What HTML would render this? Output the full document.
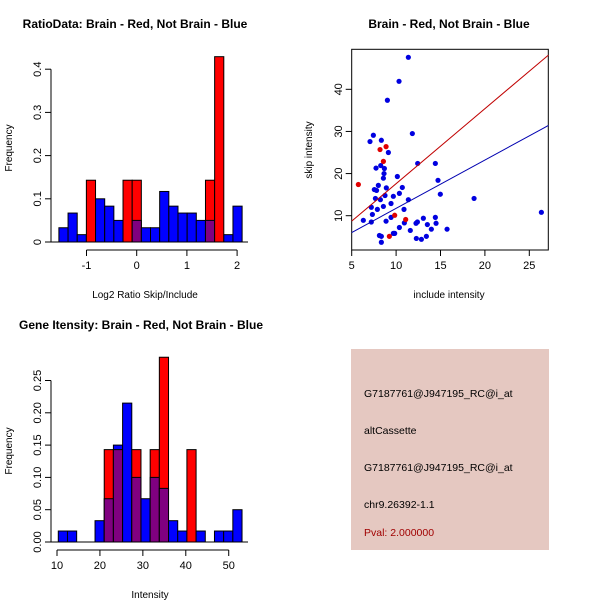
<!DOCTYPE html>
<html><head><meta charset="utf-8"><style>
body{margin:0;background:#fff}
svg{display:block;font-family:"Liberation Sans",sans-serif}
</style></head><body>
<svg id="s" width="600" height="600" xmlns="http://www.w3.org/2000/svg">
<rect width="600" height="600" fill="#fff"/>
<text x="135" y="28" font-size="12" font-weight="bold" text-anchor="middle">RatioData: Brain - Red, Not Brain - Blue</text>
<text x="449" y="28" font-size="12" font-weight="bold" text-anchor="middle">Brain - Red, Not Brain - Blue</text>
<text x="141" y="329" font-size="12" font-weight="bold" text-anchor="middle">Gene Itensity: Brain - Red, Not Brain - Blue</text>
<g id="h1"></g>
<g id="h2"></g>
<g id="sc"></g>
<g>
<rect x="351" y="349" width="198" height="201" fill="#e5c8c1"/>
<g font-size="10.5" fill="#000">
<text x="364" y="397">G7187761@J947195_RC@i_at</text>
<text x="364" y="434">altCassette</text>
<text x="364" y="471">G7187761@J947195_RC@i_at</text>
<text x="364" y="508">chr9.26392-1.1</text>
<text x="364" y="536" fill="#a00000">Pval: 2.000000</text>
</g></g>
</svg>
<script>
const NS="http://www.w3.org/2000/svg";
function mk(p,t,a){const e=document.createElementNS(NS,t);for(const k in a)e.setAttribute(k,a[k]);p.appendChild(e);return e;}
// ratio histogram data
const ratioStart=-1.55, ratioWidth=0.1825;
const ratioBlue=[0.033,0.067,0.017,0,0.1,0.083,0.05,0,0.05,0.033,0.033,0.117,0.083,0.067,0.067,0.05,0.05,0,0.017,0.083];
const ratioRed=[0,0,0,0.143,0,0,0,0.143,0.143,0,0,0,0,0,0,0,0.143,0.429,0,0];
const ratioXTicks=[-1,0,1,2];
const ratioYTicks=[0,0.1,0.2,0.3,0.4];
// gene intensity histogram data
const geneStart=10.3, geneWidth=2.14;
const geneBlue=[0.017,0.017,0,0,0.033,0.067,0.15,0.215,0.1,0.067,0.1,0.083,0.033,0.017,0,0.017,0,0.017,0.017,0.05];
const geneRed=[0,0,0,0,0,0.143,0.143,0,0.143,0,0.143,0.286,0,0,0.143,0,0,0,0,0];
const geneXTicks=[10,20,30,40,50];
const geneYTicks=["0.00","0.05","0.10","0.15","0.20","0.25"];
// scatter data
const blueX=[11.38,10.33,9.02,11.83,7.44,7.06,8.34,9.13,7.74,8.27,12.43,14.42,8.68,8.64,8.57,10.14,14.72,8.0,8.9,10.7,7.55,7.8,10.37,14.98,8.75,9.69,7.67,8.23,11.38,18.78,9.43,8.57,7.21,7.89,10.89,7.33,26.36,6.31,7.21,8.87,9.43,10.93,12.24,12.4,13.07,13.52,14.42,14.5,10.37,11.6,13.97,15.74,9.84,9.69,8.12,8.34,12.28,12.85,13.41,8.34];
const blueY=[47.6,41.9,37.4,29.5,29.1,27.6,27.9,25.0,21.3,21.9,22.4,22.4,21.2,20.0,18.9,19.3,18.4,17.2,16.6,16.7,16.2,16.0,15.3,15.1,14.8,14.6,14.1,13.8,13.8,14.1,12.9,12.2,12.0,11.5,11.5,10.3,10.8,8.9,8.5,8.7,9.6,8.3,8.2,8.5,9.4,7.9,9.6,8.2,7.2,6.5,6.8,6.8,5.8,5.8,5.3,5.1,4.6,4.4,5.1,3.7];
const redX=[5.75,8.19,8.87,8.57,9.84,11.08,9.24];
const redY=[17.4,25.7,26.4,22.9,10.1,9.1,5.1];
const redFit=[-0.2,1.78];
const blueFit=[0.27,1.147];
const scXTicks=[5,10,15,20,25];
const scYTicks=[10,20,30,40];

function hist(g,o){
  const sx=v=>o.x0+(v-o.v0)*o.kx, sy=v=>o.y0-v*o.ky;
  for(let i=0;i<o.blue.length;i++){
    const a=o.start+i*o.w,b=a+o.w,bl=o.blue[i],rd=o.red[i];
    const x=sx(a),w=sx(b)-sx(a);
    const draw=(v,c,nm)=>{if(v<=0)return;const r=mk(g,'rect',{x:x,y:sy(v),width:w,height:sy(0)-sy(v),fill:c,stroke:'#000','stroke-width':1});
      
      };
    if(bl>=rd){draw(bl,'#0000ff','bar-blue');draw(rd,'#800080','bar-overlap');}
    else{draw(rd,'#ff0000','bar-red');draw(bl,'#800080','bar-overlap');}
  }
  const xt=o.xt;
  mk(g,'line',{x1:sx(xt[0]),x2:sx(xt[xt.length-1]),y1:o.xa,y2:o.xa,stroke:'#000'});
  xt.forEach(t=>{mk(g,'line',{x1:sx(t),x2:sx(t),y1:o.xa,y2:o.xa+6,stroke:'#000'});
    const tx=mk(g,'text',{x:sx(t),y:o.xa+19,'font-size':11,'text-anchor':'middle'});tx.textContent=t;
    
    });
  const yt=o.yt;
  mk(g,'line',{x1:o.ya,x2:o.ya,y1:sy(+yt[0]),y2:sy(+yt[yt.length-1]),stroke:'#000'});
  yt.forEach(t=>{const y=sy(+t);mk(g,'line',{x1:o.ya,x2:o.ya-6,y1:y,y2:y,stroke:'#000'});
    const tx=mk(g,'text',{x:0,y:0,'font-size':11,'text-anchor':'middle',transform:`translate(${o.ya-10},${y}) rotate(-90)`});tx.textContent=t;
    
    });
  mk(g,'line',{x1:o.ya,x2:o.xr,y1:sy(0),y2:sy(0),stroke:'#000'});
  const xl=mk(g,'text',{x:o.xlx,y:o.xly,'font-size':10,'text-anchor':'middle'});xl.textContent=o.xlab;
  
  
  const yl=mk(g,'text',{x:0,y:0,'font-size':10,'text-anchor':'middle',transform:`translate(12,${o.yly}) rotate(-90)`});yl.textContent='Frequency';
  
  
}
hist(document.getElementById('h1'),{blue:ratioBlue,red:ratioRed,start:ratioStart,w:ratioWidth,x0:136.7,v0:0,kx:50.2,y0:242,ky:432,xa:250,ya:51,xr:248,xt:ratioXTicks,yt:ratioYTicks,xlab:'Log2 Ratio Skip/Include',xlx:145,xly:298,yly:148});
hist(document.getElementById('h2'),{blue:geneBlue,red:geneRed,start:geneStart,w:geneWidth,x0:57,v0:10,kx:4.293,y0:542,ky:646,xa:550,ya:51,xr:248,xt:geneXTicks,yt:geneYTicks,xlab:'Intensity',xlx:150,xly:598,yly:451});

(function(){
  const g=document.getElementById('sc');
  const sx=v=>351.7+(v-5)*8.88, sy=v=>215.7-(v-10)*4.213;
  mk(g,'rect',{x:351.7,y:49.3,width:196.6,height:200.7,fill:'none',stroke:'#000'});
  const line=(f,c,nm)=>{const x1=5,x2=27.15;const l=mk(g,'line',{x1:sx(x1),x2:sx(x2),y1:sy(f[0]+f[1]*x1),y2:sy(f[0]+f[1]*x2),stroke:c,'stroke-width':1});
    
    };
  blueX.forEach((x,i)=>{const c=mk(g,'circle',{cx:sx(x),cy:sy(blueY[i]),r:2.6,fill:'#0000e0'});
    
    });
  redX.forEach((x,i)=>{const c=mk(g,'circle',{cx:sx(x),cy:sy(redY[i]),r:2.6,fill:'#e00000'});
    
    });
  line(redFit,'#c00000','fit-line-red');
  line(blueFit,'#0000b0','fit-line-blue');
  scXTicks.forEach(t=>{mk(g,'line',{x1:sx(t),x2:sx(t),y1:250,y2:256,stroke:'#000'});
    const tx=mk(g,'text',{x:sx(t),y:269,'font-size':11,'text-anchor':'middle'});tx.textContent=t;
    
    });
  scYTicks.forEach(t=>{const y=sy(t);mk(g,'line',{x1:351.7,x2:345.7,y1:y,y2:y,stroke:'#000'});
    const tx=mk(g,'text',{x:0,y:0,'font-size':11,'text-anchor':'middle',transform:`translate(342,${y}) rotate(-90)`});tx.textContent=t;
    
    });
  const xl=mk(g,'text',{x:449,y:298,'font-size':10,'text-anchor':'middle'});xl.textContent='include intensity';
  
  
  const yl=mk(g,'text',{x:0,y:0,'font-size':10,'text-anchor':'middle',transform:'translate(312,150) rotate(-90)'});yl.textContent='skip intensity';
  
  
})();
</script>
</body></html>
